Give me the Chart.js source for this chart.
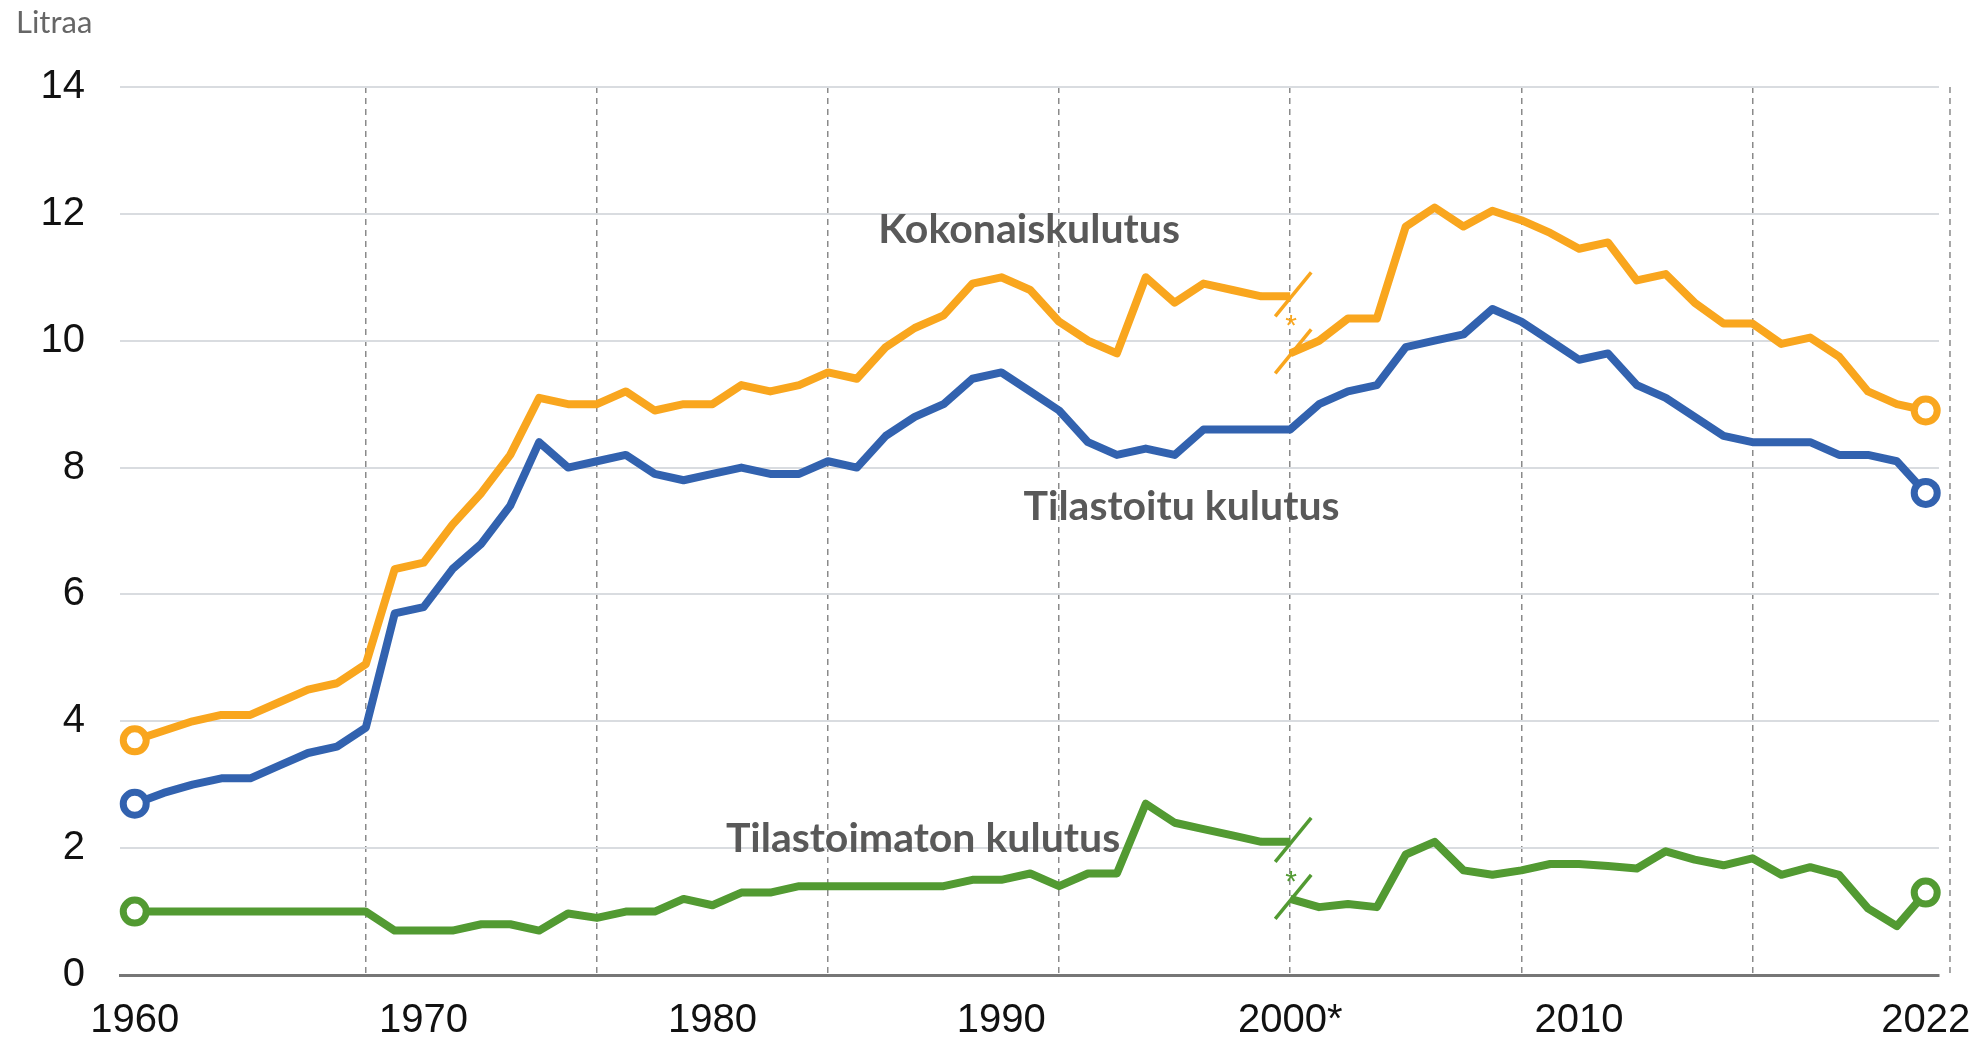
<!DOCTYPE html>
<html>
<head>
<meta charset="utf-8">
<script src="https://cdn.jsdelivr.net/npm/chart.js@4.4.1/dist/chart.umd.min.js"></script>
<style>
  html, body { margin: 0; padding: 0; background: #ffffff; }
  #wrap { position: relative; width: 1980px; height: 1041px; }
</style>
</head>
<body>
<div id="wrap"><canvas id="c" width="1980" height="1041"></canvas></div>
<script>
// ---------- DATA ----------
const years = [1960,1961,1962,1963,1964,1965,1966,1967,1968,1969,
               1970,1971,1972,1973,1974,1975,1976,1977,1978,1979,
               1980,1981,1982,1983,1984,1985,1986,1987,1988,1989,
               1990,1991,1992,1993,1994,1995,1996,1997,1998,1999,
               2000,2001,2002,2003,2004,2005,2006,2007,2008,2009,
               2010,2011,2012,2013,2014,2015,2016,2017,2018,2019,
               2020,2021,2022];

// Kokonaiskulutus, old series 1960-2000
const kokonaisOld = [3.7,3.85,4.0,4.1,4.1,4.3,4.5,4.6,4.9,6.4,
                     6.5,7.1,7.6,8.2,9.1,9.0,9.0,9.2,8.9,9.0,
                     9.0,9.3,9.2,9.3,9.5,9.4,9.9,10.2,10.4,10.9,
                     11.0,10.8,10.3,10.0,9.8,11.0,10.6,10.9,10.8,10.7,
                     10.7];
// Kokonaiskulutus, new series 2000*-2022
const kokonaisNew = [9.8,10.0,10.35,10.35,11.8,12.1,11.8,12.05,11.9,11.7,
                     11.45,11.55,10.95,11.05,10.6,10.27,10.27,9.95,10.05,9.75,
                     9.2,9.0,8.9];
// Tilastoitu kulutus 1960-2022
const tilastoitu = [2.7,2.87,3.0,3.1,3.1,3.3,3.5,3.6,3.9,5.7,
                    5.8,6.4,6.8,7.4,8.4,8.0,8.1,8.2,7.9,7.8,
                    7.9,8.0,7.9,7.9,8.1,8.0,8.5,8.8,9.0,9.4,
                    9.5,9.2,8.9,8.4,8.2,8.3,8.2,8.6,8.6,8.6,
                    8.6,9.0,9.2,9.3,9.9,10.0,10.1,10.5,10.3,10.0,
                    9.7,9.8,9.3,9.1,8.8,8.5,8.4,8.4,8.4,8.2,
                    8.2,8.1,7.6];
// Tilastoimaton kulutus, old series 1960-2000
const tilastoimatonOld = [1.0,1.0,1.0,1.0,1.0,1.0,1.0,1.0,1.0,0.7,
                          0.7,0.7,0.8,0.8,0.7,0.97,0.9,1.0,1.0,1.2,
                          1.1,1.3,1.3,1.4,1.4,1.4,1.4,1.4,1.4,1.5,
                          1.5,1.6,1.4,1.6,1.6,2.7,2.4,2.3,2.2,2.1,
                          2.1];
// Tilastoimaton kulutus, new series 2000*-2022
const tilastoimatonNew = [1.2,1.07,1.12,1.07,1.9,2.1,1.65,1.58,1.65,1.75,
                          1.75,1.72,1.68,1.95,1.82,1.73,1.84,1.58,1.7,1.58,
                          1.05,0.77,1.3];

const breakYear = 2000;
const xLabelYears = [1960,1970,1980,1990,2000,2010,2022];
const xLabelTexts = ['1960','1970','1980','1990','2000*','2010','2022'];
const xGridYears  = [1968,1976,1984,1992,2000,2008,2016];
const yTickValues = [0,2,4,6,8,10,12,14];
const seriesNames = ['Kokonaiskulutus','Tilastoitu kulutus','Tilastoimaton kulutus'];
const unitLabel = 'Litraa';

// ---------- STYLE ----------
const ORANGE = '#F9A61E';
const BLUE   = '#3262AF';
const GREEN  = '#529A32';
const TEXT_GRAY = '#595959';
const GRID_H = '#D9DCE0';
const GRID_V = '#8A8A8A';
const AXIS = '#767676';

const oldYears = years.filter(y => y <= breakYear);
const newYears = years.filter(y => y >= breakYear);
const toPts = (xs, ys) => xs.map((x, i) => ({ x: x, y: ys[i] }));

function lineDs(label, xs, ys, color, circleFirst, circleLast) {
  const n = ys.length;
  return {
    label: label,
    data: toPts(xs, ys),
    borderColor: color,
    backgroundColor: color,
    borderWidth: 8,
    borderJoinStyle: 'round',
    borderCapStyle: 'butt',
    tension: 0,
    fill: false,
    clip: false,
    pointRadius: ctx => ((circleFirst && ctx.dataIndex === 0) || (circleLast && ctx.dataIndex === n - 1)) ? 11.5 : 0,
    pointBorderWidth: 7,
    pointBorderColor: color,
    pointBackgroundColor: '#ffffff',
    pointHoverRadius: 0
  };
}

const datasets = [
  lineDs(seriesNames[2], oldYears, tilastoimatonOld, GREEN, true, false),
  lineDs(seriesNames[2], newYears, tilastoimatonNew, GREEN, false, true),
  lineDs(seriesNames[1], years, tilastoitu, BLUE, true, true),
  lineDs(seriesNames[0], oldYears, kokonaisOld, ORANGE, true, false),
  lineDs(seriesNames[0], newYears, kokonaisNew, ORANGE, false, true)
];

const xTickValues = Array.from(new Set(xLabelYears.concat(xGridYears))).sort((a, b) => a - b);

const breakMarks = [
  { color: ORANGE, oldEnd: kokonaisOld[kokonaisOld.length - 1], newStart: kokonaisNew[0], starFrac: 0.36 },
  { color: GREEN, oldEnd: tilastoimatonOld[tilastoimatonOld.length - 1], newStart: tilastoimatonNew[0], starFrac: 0.54 }
];

const annotations = [
  { text: seriesNames[0], x: 1990.96, y: 11.54 },
  { text: seriesNames[1], x: 1996.24, y: 7.17 },
  { text: seriesNames[2], x: 1987.29, y: 1.94 }
];

const decorPlugin = {
  id: 'decor',
  beforeDatasetsDraw(chart) {
    const { ctx, chartArea, scales: { x } } = chart;
    // right frame dashed line
    const px = x.getPixelForValue(2022.84);
    ctx.save();
    ctx.strokeStyle = GRID_V;
    ctx.lineWidth = 1.5;
    ctx.setLineDash([6, 5]);
    ctx.beginPath();
    ctx.moveTo(px, chartArea.top);
    ctx.lineTo(px, chartArea.bottom);
    ctx.stroke();
    ctx.restore();
  },
  afterDatasetsDraw(chart) {
    const { ctx, scales: { x, y } } = chart;
    ctx.save();
    // break marks
    breakMarks.forEach(b => {
      const px = x.getPixelForValue(breakYear) + 3;
      ctx.strokeStyle = b.color;
      ctx.lineWidth = 3.5;
      ctx.lineCap = 'butt';
      [b.oldEnd, b.newStart].forEach(v => {
        const py = y.getPixelForValue(v) - 2;
        ctx.beginPath();
        ctx.moveTo(px - 18, py + 22);
        ctx.lineTo(px + 18, py - 22);
        ctx.stroke();
      });
      const pTop = y.getPixelForValue(b.oldEnd);
      const pBot = y.getPixelForValue(b.newStart);
      const sy = pTop + (pBot - pTop) * b.starFrac;
      ctx.fillStyle = b.color;
      ctx.font = '30px "Liberation Sans", Arial, sans-serif';
      ctx.textAlign = 'center';
      ctx.textBaseline = 'alphabetic';
      ctx.fillText('*', px - 2, sy + 18);
    });
    // series annotations
    ctx.fillStyle = TEXT_GRAY;
    ctx.font = 'bold 41px Lato, "Noto Sans", sans-serif';
    ctx.textAlign = 'center';
    ctx.textBaseline = 'alphabetic';
    annotations.forEach(a => {
      ctx.fillText(a.text, x.getPixelForValue(a.x), y.getPixelForValue(a.y));
    });
    // unit label
    ctx.fillStyle = '#666666';
    ctx.font = '31px Lato, "Noto Sans", sans-serif';
    ctx.textAlign = 'left';
    ctx.fillText(unitLabel, 16, 33);
    ctx.restore();
  }
};

const tickFont = { family: '"Liberation Sans", Arial, sans-serif', size: 40 };

new Chart(document.getElementById('c').getContext('2d'), {
  type: 'line',
  data: { datasets: datasets },
  options: {
    responsive: false,
    animation: false,
    devicePixelRatio: 1,
    layout: { padding: { left: 0, right: 41, top: 87, bottom: 0 } },
    plugins: { legend: { display: false }, tooltip: { enabled: false } },
    scales: {
      x: {
        type: 'linear',
        min: 1959.49,
        max: 2022.46,
        afterBuildTicks: s => { s.ticks = xTickValues.map(v => ({ value: v })); },
        afterFit: s => { s.height = 66; s.paddingLeft = 0; s.paddingRight = 0; },
        ticks: {
          autoSkip: false,
          maxRotation: 0,
          padding: 22,
          color: '#111111',
          font: tickFont,
          callback: v => {
            const i = xLabelYears.indexOf(v);
            return i >= 0 ? xLabelTexts[i] : '';
          }
        },
        grid: {
          drawTicks: false,
          lineWidth: 1.5,
          color: c => (c.tick && xGridYears.includes(c.tick.value)) ? GRID_V : 'rgba(0,0,0,0)'
        },
        border: { display: true, color: AXIS, width: 3, dash: [6, 5] }
      },
      y: {
        min: 0,
        max: 14,
        afterBuildTicks: s => { s.ticks = yTickValues.map(v => ({ value: v })); },
        afterFit: s => { s.width = 120; s.paddingTop = 0; s.paddingBottom = 0; },
        ticks: { padding: 35, color: '#111111', font: tickFont },
        grid: {
          drawTicks: false,
          lineWidth: 2,
          color: c => (c.tick && c.tick.value === 0) ? 'rgba(0,0,0,0)' : GRID_H
        },
        border: { display: false }
      }
    }
  },
  plugins: [decorPlugin]
});
</script>
</body>
</html>
